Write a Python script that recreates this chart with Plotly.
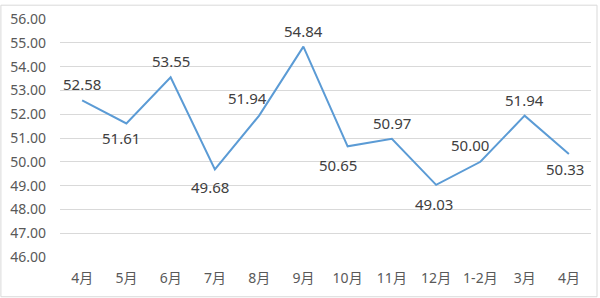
import plotly.graph_objects as go

categories = ["4月", "5月", "6月", "7月", "8月", "9月", "10月", "11月", "12月", "1-2月", "3月", "4月"]
values = [52.58, 51.61, 53.55, 49.68, 51.94, 54.84, 50.65, 50.97, 49.03, 50.00, 51.94, 50.33]
y_ticks = [46, 47, 48, 49, 50, 51, 52, 53, 54, 55, 56]

# label placement (pixel offsets from each point)
label_dy = [16, -15, 16, -18, 18, 16, -19, 16, -19, 17, 16, -15]
label_dx = [0, -5, 0, -5, -12, 0, -10, 0, -2, -10, 0, -4]

x = list(range(len(categories)))
font_family = "Noto Sans, Noto Sans CJK SC, sans-serif"

fig = go.Figure()
fig.add_trace(go.Scatter(
    x=x, y=values, mode="lines",
    line=dict(color="#5B9BD5", width=2),
    hoverinfo="skip",
))

annotations = []
for xi, v, dy, dx in zip(x, values, label_dy, label_dx):
    annotations.append(dict(
        x=xi, y=v, xref="x", yref="y", text=f"{v:.2f}", showarrow=False,
        yshift=dy, xshift=dx, yanchor="middle", xanchor="center",
        font=dict(size=15, color="#404040", family=font_family),
    ))

fig.update_layout(
    width=600, height=298,
    margin=dict(l=60, r=9, t=15, b=41),
    paper_bgcolor="white", plot_bgcolor="white",
    showlegend=False,
    font=dict(family=font_family, color="#595959", size=14),
    annotations=annotations,
    xaxis=dict(
        range=[-0.5, len(categories) - 0.5],
        tickmode="array", tickvals=x, ticktext=categories,
        showgrid=False, zeroline=False, showline=False, ticks="",
        tickfont=dict(size=14, color="#595959"),
        ticklabelstandoff=11,
    ),
    yaxis=dict(
        range=[46, 56],
        tickmode="array", tickvals=y_ticks, ticktext=[f"{t:.2f}" for t in y_ticks],
        showgrid=True, gridcolor="#D9D9D9", gridwidth=1,
        zeroline=False, showline=False, ticks="",
        tickfont=dict(size=14, color="#595959"),
        ticklabelstandoff=13,
    ),
    shapes=[dict(type="rect", xref="paper", yref="paper",
                 x0=-0.1113, x1=1.0113, y0=-0.167, y1=1.058,
                 line=dict(color="#D9D9D9", width=1))],
)

fig.write_html("out.html")
